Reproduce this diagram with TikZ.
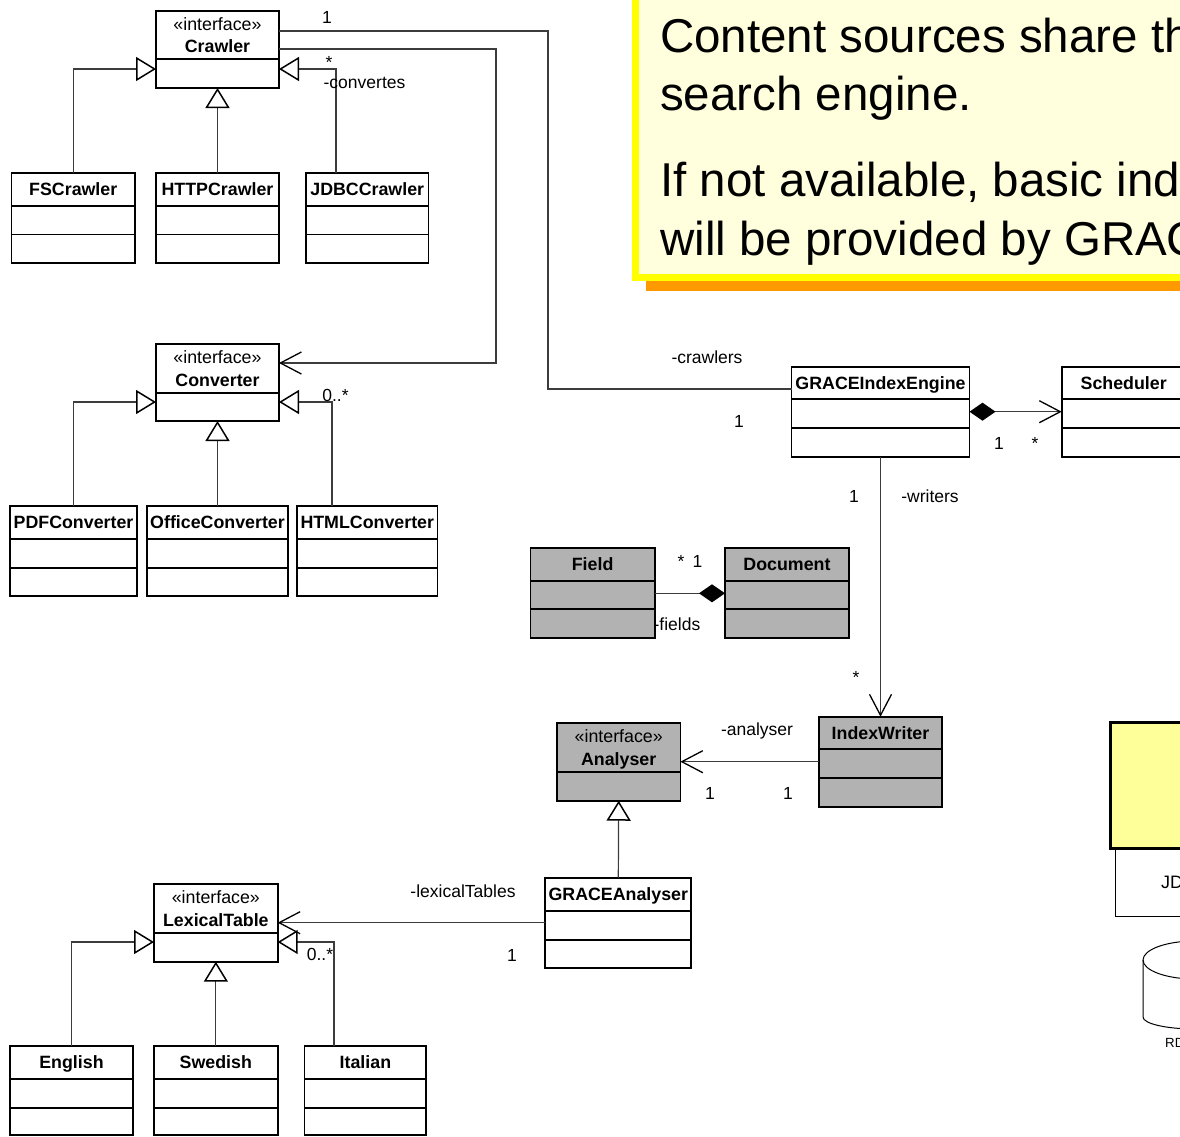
\documentclass[tikz,border=0pt]{standalone}
\usepackage{fontspec}
\setmainfont{Liberation Sans}
\usetikzlibrary{arrows.meta}
\definecolor{clsgray}{RGB}{178,178,178}
\definecolor{notefill}{RGB}{255,255,221}
\definecolor{noteborder}{RGB}{255,255,0}
\definecolor{noteshadow}{RGB}{255,153,0}
\definecolor{boxyellow}{RGB}{255,255,153}
\definecolor{linegray}{RGB}{60,60,60}
\tikzset{
  clsbox/.style={draw=black, line width=1.8pt, inner sep=0pt, outer sep=0pt, fill=white},
  graycls/.style={fill=clsgray},
  whitecls/.style={fill=white},
  sepline/.style={draw=black, line width=1.8pt},
  clsname/.style={font=\fontsize{17.8}{21}\selectfont\bfseries, inner sep=0pt, text height=12.8pt, text depth=0pt},
  stereo/.style={font=\fontsize{17.8}{21}\selectfont, inner sep=0pt, text height=12.8pt, text depth=0pt},
  lbl/.style={font=\fontsize{17.5}{20}\selectfont, inner sep=0pt, text height=12.6pt, text depth=0pt},
  conn/.style={draw=linegray, line width=1.2pt},
  gen/.style={conn, -{Triangle[length=20pt, width=24pt, line width=1.5pt, color=black, fill=white]}},
  barb/.style={conn, -{Straight Barb[length=21pt, width=22pt, line width=1.3pt, color=black]}},
  comp/.style={conn, {Diamond[length=26pt, width=18pt, color=black]}-{Straight Barb[length=21pt, width=22pt, line width=1.3pt, color=black]}},
  compd/.style={conn, {Diamond[length=26pt, width=18pt, color=black]}-},
  notetext/.style={font=\fontsize{47.5}{57}\selectfont, inner sep=0pt, anchor=base west},
}
% id x1 y1 x2 y2 s1 s2 fillstyle name
\newcommand\umlclass[9]{%
  \node[clsbox,#8,minimum width={(#4-#2)*1pt},minimum height={(#5-#3)*1pt}] (#1) at ({(#2+#4)/2},{(#3+#5)/2}) {};
  \draw[sepline] (#1.west |- 0,#6) -- (#1.east |- 0,#6);
  \draw[sepline] (#1.west |- 0,#7) -- (#1.east |- 0,#7);
  \node[clsname] (#1-name) at ({(#2+#4)/2},{(#3+#6)/2}) {#9};
}
% id x1 y1 x2 y2 s1 fillstyle name
\newcommand\umliface[8]{%
  \node[clsbox,#7,minimum width={(#4-#2)*1pt},minimum height={(#5-#3)*1pt}] (#1) at ({(#2+#4)/2},{(#3+#5)/2}) {};
  \draw[sepline] (#1.west |- 0,#6) -- (#1.east |- 0,#6);
  \node[stereo] (#1-st) at ({(#2+#4)/2},{(#3+#6)/2-11.3}) {«interface»};
  \node[clsname] (#1-name) at ({(#2+#4)/2},{(#3+#6)/2+11.3}) {#8};
}
\begin{document}
\begin{tikzpicture}[x=1pt, y=-1pt]
\useasboundingbox (0,0) rectangle (1180,1136);
\clip (0,0) rectangle (1180,1136);

% note
\fill[noteshadow] (646,-20) rectangle (1300,291);
\draw[noteborder, line width=7pt, fill=notefill] (635.5,-20) rectangle (1300,277.5);
\node[notetext] (note1) at (660,52.7) {Content sources share th};
\node[notetext] (note2) at (660,110) {search engine.};
\node[notetext] (note3) at (660,196.7) {If not available, basic ind};
\node[notetext] (note4) at (660,255) {will be provided by GRAC};

% bottom right component
\draw[line width=1pt] (1115.5,848) -- (1115.5,916.5) -- (1300,916.5);
\draw[line width=3pt, fill=boxyellow] (1110.5,722.5) rectangle (1300,848.5);
\node[font=\fontsize{18}{20}\selectfont, inner sep=0pt, anchor=west, text height=12.9pt, text depth=0pt] (jd) at (1161,882) {JD};
\draw[line width=1pt] (1195,960) ellipse [x radius=52, y radius=19];
\draw[line width=1pt] (1143,960) -- (1143,1017) arc[start angle=180, end angle=0, x radius=52, y radius=12];
\node[font=\fontsize{13.3}{15}\selectfont, inner sep=0pt, anchor=west, text height=9.5pt, text depth=0pt] (rd) at (1165,1042.5) {RD};

% classes
\umliface{crawler}{156}{11}{279}{88}{59}{whitecls}{Crawler}
\umlclass{fscrawler}{11.5}{173}{135}{263}{206}{234.5}{whitecls}{FSCrawler}
\umlclass{httpcrawler}{156}{173}{279}{263}{206}{234.5}{whitecls}{HTTPCrawler}
\umlclass{jdbccrawler}{306}{173}{428.5}{263}{206}{234.5}{whitecls}{JDBCCrawler}

\umliface{converter}{156}{344}{279}{421}{392.7}{whitecls}{Converter}
\umlclass{pdfconverter}{10}{506}{137}{596}{539}{567.7}{whitecls}{PDFConverter}
\umlclass{officeconverter}{147}{506}{288}{596}{539}{567.7}{whitecls}{OfficeConverter}
\umlclass{htmlconverter}{297}{506}{437.5}{596}{539}{567.7}{whitecls}{HTMLConverter}

\umlclass{engine}{791.5}{366.7}{969.5}{457}{399.3}{428.3}{whitecls}{GRACEIndexEngine}
\umlclass{scheduler}{1061.7}{366.7}{1185.7}{457}{399.3}{428.3}{whitecls}{Scheduler}

\umlclass{field}{530.5}{548.3}{654.7}{638.3}{580.7}{609.3}{graycls}{Field}
\umlclass{document}{725}{548.3}{849}{638.3}{580.7}{609.3}{graycls}{Document}

\umlclass{indexwriter}{819}{716.7}{942}{806.7}{749}{778}{graycls}{IndexWriter}
\umliface{analyser}{557}{722.7}{680.4}{800.7}{772}{graycls}{Analyser}
\umlclass{graceanalyser}{545.3}{877.7}{691.3}{967.7}{911}{940}{whitecls}{GRACEAnalyser}

\umliface{lexicaltable}{154}{884}{277.7}{961.7}{932.7}{whitecls}{LexicalTable}
\umlclass{english}{10}{1046}{133}{1135}{1079}{1107.7}{whitecls}{English}
\umlclass{swedish}{154}{1046}{277.7}{1135}{1079}{1107.7}{whitecls}{Swedish}
\umlclass{italian}{304.5}{1046}{426.3}{1135}{1079}{1107.7}{whitecls}{Italian}

% connectors
\draw[gen] (fscrawler.north) |- (crawler.west |- 0,69);
\draw[gen] (httpcrawler.north) -- (crawler.south);
\draw[gen] (jdbccrawler.north -| 336,0) |- (crawler.east |- 0,69);

\draw[conn] (crawler.east |- 0,31) -| (548,389) -- (engine.west |- 0,389);
\draw[barb] (crawler.east |- 0,49) -| (496,363) -- (converter.east |- 0,363);

\draw[gen] (pdfconverter.north) |- (converter.west |- 0,402);
\draw[gen] (officeconverter.north) -- (converter.south);
\draw[gen] (htmlconverter.north -| 332,0) |- (converter.east |- 0,402);

\draw[comp] (engine.east |- 0,411.7) -- (scheduler.west |- 0,411.7);
\draw[barb] (engine.south) -- (indexwriter.north);
\draw[compd] (document.west) -- (field.east);
\draw[barb] (indexwriter.west) -- (analyser.east |- indexwriter.west);
\draw[gen] (graceanalyser.north) -- (analyser.south);
\draw[barb] (graceanalyser.west) -- (lexicaltable.east |- graceanalyser.west);

\draw[gen] (english.north) |- (lexicaltable.west |- 0,942);
\draw[gen] (swedish.north) -- (lexicaltable.south);
\draw[gen] (italian.north -| 334,0) |- (lexicaltable.east |- 0,942);

% labels
\node[lbl] (l1) at (327,17) {1};
\node[lbl] (l2) at (329,62) {*};
\node[lbl] (l3) at (364.5,82) {-convertes};
\node[lbl] (l4) at (707,357) {-crawlers};
\node[lbl] (l5) at (739,421) {1};
\node[lbl] (l6) at (335.5,395) {0..*};
\node[lbl] (l7) at (999,443) {1};
\node[lbl] (l8) at (1035,443) {*};
\node[lbl] (l9) at (854,496) {1};
\node[lbl] (l10) at (930,496) {-writers};
\node[lbl] (l11) at (856,677) {*};
\node[lbl] (l12) at (681,561) {*};
\node[lbl] (l13) at (697.6,561) {1};
\node[lbl] (l14) at (677,624) {-fields};
\node[lbl] (l15) at (757,729) {-analyser};
\node[lbl] (l16) at (710,793) {1};
\node[lbl] (l17) at (788,793) {1};
\node[lbl] (l18) at (463,891) {-lexicalTables};
\node[lbl] (l19) at (512,955) {1};
\node[lbl] (l20) at (320,954) {0..*};
\end{tikzpicture}
\end{document}
